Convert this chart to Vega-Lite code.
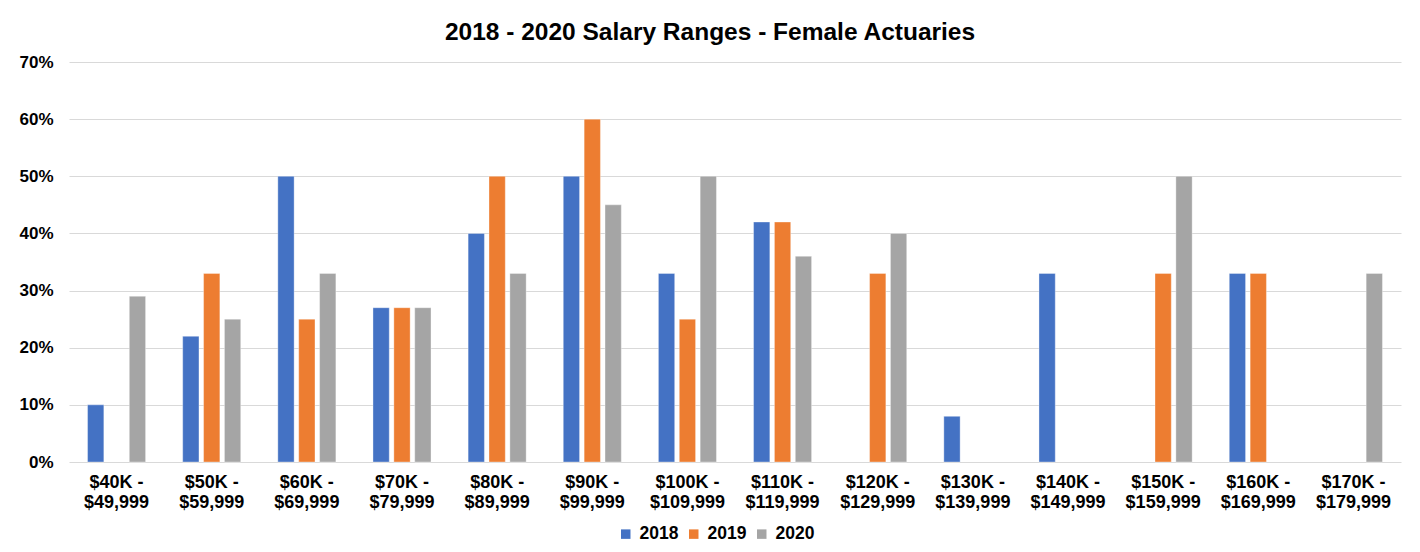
{
  "$schema": "https://vega.github.io/schema/vega-lite/v6.json",
  "width": 1332,
  "height": 400,
  "autosize": {"type": "none"},
  "padding": {"left": 69, "top": 62, "right": 19, "bottom": 90},
  "background": "white",
  "config": {
    "font": "Liberation Sans",
    "view": {"stroke": null},
    "axis": {"labelFont": "Liberation Sans", "labelFontWeight": "bold", "labelFontSize": 17, "labelColor": "#000000"},
    "legend": {"labelFont": "Liberation Sans", "labelFontWeight": "bold", "labelFontSize": 17.5, "labelColor": "#000000"}
  },
  "title": {
    "text": "2018 - 2020 Salary Ranges - Female Actuaries",
    "font": "Liberation Sans",
    "fontSize": 24.5,
    "fontWeight": "bold",
    "color": "#000000",
    "anchor": "middle",
    "offset": 8,
    "dx": -25
  },
  "data": {
    "values": [
      {"range": "$40K - $49,999", "year": "2018", "pct": 0.10},
      {"range": "$40K - $49,999", "year": "2020", "pct": 0.29},
      {"range": "$50K - $59,999", "year": "2018", "pct": 0.22},
      {"range": "$50K - $59,999", "year": "2019", "pct": 0.33},
      {"range": "$50K - $59,999", "year": "2020", "pct": 0.25},
      {"range": "$60K - $69,999", "year": "2018", "pct": 0.50},
      {"range": "$60K - $69,999", "year": "2019", "pct": 0.25},
      {"range": "$60K - $69,999", "year": "2020", "pct": 0.33},
      {"range": "$70K - $79,999", "year": "2018", "pct": 0.27},
      {"range": "$70K - $79,999", "year": "2019", "pct": 0.27},
      {"range": "$70K - $79,999", "year": "2020", "pct": 0.27},
      {"range": "$80K - $89,999", "year": "2018", "pct": 0.40},
      {"range": "$80K - $89,999", "year": "2019", "pct": 0.50},
      {"range": "$80K - $89,999", "year": "2020", "pct": 0.33},
      {"range": "$90K - $99,999", "year": "2018", "pct": 0.50},
      {"range": "$90K - $99,999", "year": "2019", "pct": 0.60},
      {"range": "$90K - $99,999", "year": "2020", "pct": 0.45},
      {"range": "$100K - $109,999", "year": "2018", "pct": 0.33},
      {"range": "$100K - $109,999", "year": "2019", "pct": 0.25},
      {"range": "$100K - $109,999", "year": "2020", "pct": 0.50},
      {"range": "$110K - $119,999", "year": "2018", "pct": 0.42},
      {"range": "$110K - $119,999", "year": "2019", "pct": 0.42},
      {"range": "$110K - $119,999", "year": "2020", "pct": 0.36},
      {"range": "$120K - $129,999", "year": "2019", "pct": 0.33},
      {"range": "$120K - $129,999", "year": "2020", "pct": 0.40},
      {"range": "$130K - $139,999", "year": "2018", "pct": 0.08},
      {"range": "$140K - $149,999", "year": "2018", "pct": 0.33},
      {"range": "$150K - $159,999", "year": "2019", "pct": 0.33},
      {"range": "$150K - $159,999", "year": "2020", "pct": 0.50},
      {"range": "$160K - $169,999", "year": "2018", "pct": 0.33},
      {"range": "$160K - $169,999", "year": "2019", "pct": 0.33},
      {"range": "$170K - $179,999", "year": "2020", "pct": 0.33}
    ]
  },
  "mark": {"type": "bar", "stroke": "#ffffff", "strokeOpacity": 0.35, "strokeWidth": 1},
  "encoding": {
    "x": {
      "field": "range",
      "type": "nominal",
      "sort": null,
      "scale": {
        "domain": ["$40K - $49,999", "$50K - $59,999", "$60K - $69,999", "$70K - $79,999", "$80K - $89,999", "$90K - $99,999", "$100K - $109,999", "$110K - $119,999", "$120K - $129,999", "$130K - $139,999", "$140K - $149,999", "$150K - $159,999", "$160K - $169,999", "$170K - $179,999"],
        "paddingInner": 0.39,
        "paddingOuter": 0.195
      },
      "axis": {
        "title": null,
        "labelAngle": 0,
        "ticks": false,
        "domain": false,
        "grid": false,
        "labelFontSize": 18,
        "labelPadding": 11,
        "labelLineHeight": 20,
        "labelBaseline": "top",
        "labelExpr": "[split(datum.value, ' - ')[0] + ' -', split(datum.value, ' - ')[1]]"
      }
    },
    "xOffset": {
      "field": "year",
      "type": "nominal",
      "scale": {"domain": ["2018", "2019", "2020"], "paddingInner": 0.22, "paddingOuter": 0}
    },
    "y": {
      "field": "pct",
      "type": "quantitative",
      "scale": {"domain": [0, 0.7], "nice": false},
      "axis": {
        "title": null,
        "format": ".0%",
        "values": [0, 0.1, 0.2, 0.3, 0.4, 0.5, 0.6, 0.7],
        "ticks": false,
        "domain": false,
        "gridColor": "#d9d9d9",
        "gridWidth": 1,
        "labelPadding": 16
      }
    },
    "color": {
      "field": "year",
      "type": "nominal",
      "scale": {"domain": ["2018", "2019", "2020"], "range": ["#4472C4", "#ED7D31", "#A5A5A5"]},
      "legend": {
        "title": null,
        "orient": "none",
        "direction": "horizontal",
        "legendX": 548,
        "legendY": 463,
        "symbolType": "square",
        "symbolSize": 90,
        "symbolStrokeWidth": 0,
        "labelOffset": 5,
        "columnPadding": 6
      }
    }
  }
}
